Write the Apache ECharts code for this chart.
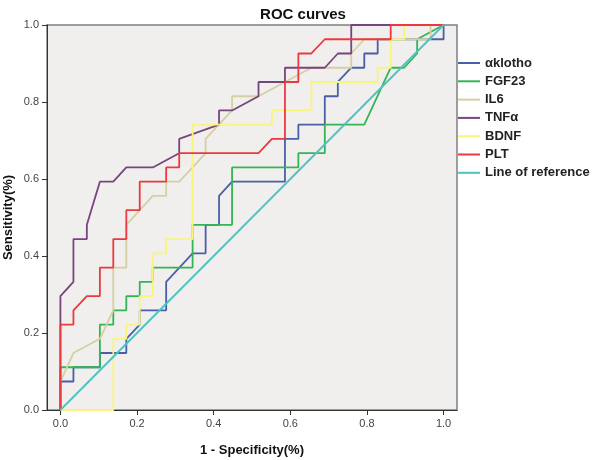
<!DOCTYPE html>
<html>
<head>
<meta charset="utf-8">
<script src="https://cdn.jsdelivr.net/npm/echarts@6/dist/echarts.min.js"></script>
<style>
html,body{margin:0;padding:0;background:#fff;}
#chart{width:597px;height:460px;}
</style>
</head>
<body>
<div id="chart"></div>
<script>
// ---- Data (1 - specificity, sensitivity) ----
const seriesNames = ['αklotho', 'FGF23', 'IL6', 'TNFα', 'BDNF', 'PLT', 'Line of reference'];

const aklotho = [[0,0],[0,0.074],[0.034,0.074],[0.034,0.111],[0.103,0.111],[0.103,0.148],[0.172,0.148],[0.172,0.185],[0.207,0.222],[0.207,0.259],[0.276,0.259],[0.276,0.333],[0.345,0.407],[0.379,0.407],[0.379,0.481],[0.414,0.481],[0.414,0.556],[0.448,0.593],[0.586,0.593],[0.586,0.704],[0.621,0.704],[0.621,0.741],[0.690,0.741],[0.690,0.815],[0.724,0.815],[0.724,0.852],[0.759,0.889],[0.793,0.889],[0.793,0.926],[0.828,0.926],[0.828,0.963],[1,0.963],[1,1]];

const fgf23 = [[0,0],[0,0.111],[0.103,0.111],[0.103,0.222],[0.138,0.222],[0.138,0.259],[0.172,0.259],[0.172,0.296],[0.207,0.296],[0.207,0.333],[0.241,0.333],[0.241,0.370],[0.345,0.370],[0.345,0.481],[0.448,0.481],[0.448,0.630],[0.621,0.630],[0.621,0.667],[0.690,0.667],[0.690,0.741],[0.793,0.741],[0.862,0.889],[0.897,0.889],[0.931,0.926],[0.931,0.963],[1,1]];

const il6 = [[0,0],[0,0.074],[0.034,0.148],[0.103,0.185],[0.138,0.259],[0.138,0.370],[0.172,0.370],[0.172,0.481],[0.241,0.556],[0.276,0.556],[0.276,0.593],[0.310,0.593],[0.345,0.630],[0.379,0.667],[0.379,0.704],[0.448,0.778],[0.448,0.815],[0.517,0.815],[0.586,0.852],[0.655,0.889],[0.759,0.889],[0.759,0.926],[0.793,0.963],[0.966,0.963],[0.966,1],[1,1]];

const tnfa = [[0,0],[0,0.296],[0.034,0.333],[0.034,0.444],[0.069,0.444],[0.069,0.481],[0.103,0.593],[0.138,0.593],[0.172,0.630],[0.241,0.630],[0.310,0.667],[0.310,0.704],[0.414,0.741],[0.414,0.778],[0.448,0.778],[0.517,0.815],[0.517,0.852],[0.586,0.852],[0.586,0.889],[0.690,0.889],[0.724,0.926],[0.759,0.926],[0.759,1],[1,1]];

const bdnf = [[0,0],[0.138,0],[0.138,0.185],[0.172,0.185],[0.172,0.222],[0.207,0.222],[0.207,0.296],[0.241,0.296],[0.241,0.407],[0.276,0.407],[0.276,0.444],[0.345,0.444],[0.345,0.741],[0.552,0.741],[0.552,0.778],[0.655,0.778],[0.655,0.852],[0.828,0.852],[0.828,0.889],[0.862,0.889],[0.862,0.963],[0.897,0.963],[0.897,1],[1,1]];

const plt = [[0,0],[0,0.222],[0.034,0.222],[0.034,0.259],[0.069,0.296],[0.103,0.296],[0.103,0.370],[0.138,0.370],[0.138,0.444],[0.172,0.444],[0.172,0.519],[0.207,0.519],[0.207,0.593],[0.276,0.593],[0.276,0.630],[0.310,0.630],[0.310,0.667],[0.517,0.667],[0.552,0.704],[0.586,0.704],[0.586,0.852],[0.621,0.852],[0.621,0.926],[0.655,0.926],[0.690,0.963],[0.862,0.963],[0.862,1],[1,1]];

const reference = [[0,0],[1,1]];

const tickValues = [0, 0.2, 0.4, 0.6, 0.8, 1.0];

const colors = ['#4a5fa8', '#33b553', '#d6cfa2', '#77457d', '#f8f47c', '#ea3a40', '#4cc2c4'];
const dataSets = [aklotho, fgf23, il6, tnfa, bdnf, plt, reference];

const chart = echarts.init(document.getElementById('chart'), null, {renderer: 'canvas'});

const series = seriesNames.map((name, i) => ({
  name: name,
  type: 'line',
  data: dataSets[i],
  symbol: 'none',
  showSymbol: false,
  smooth: false,
  lineStyle: {color: colors[i], width: 1.8},
  itemStyle: {color: colors[i]},
  z: 2 + i,
  animation: false
}));

chart.setOption({
  animation: false,
  backgroundColor: '#ffffff',
  textStyle: {fontFamily: 'Liberation Sans, Arial, sans-serif'},
  title: {
    text: 'ROC curves',
    left: 298,
    textAlign: 'center',
    top: 2,
    textStyle: {fontSize: 15, fontWeight: 'bold', color: '#111', fontFamily: 'Liberation Sans, Arial, sans-serif'}
  },
  grid: {
    left: 47, right: 140, top: 25, bottom: 50,
    containLabel: false,
    outerBoundsMode: 'none',
    show: true,
    backgroundColor: '#f0efed',
    borderColor: '#808080',
    borderWidth: 1.5
  },
  legend: {
    orient: 'vertical',
    left: 453,
    top: 51,
    icon: 'rect',
    itemWidth: 22,
    itemHeight: 2,
    itemGap: 4.3,
    data: seriesNames,
    textStyle: {fontSize: 13, fontWeight: 'bold', color: '#222', lineHeight: 14, fontFamily: 'Liberation Sans, Arial, sans-serif'},
    selectedMode: false
  },
  xAxis: {
    type: 'value',
    min: -0.035,
    max: 1.035,
    name: '1 - Specificity(%)',
    nameLocation: 'middle',
    nameGap: 34,
    nameMoveOverlap: false,
    nameTextStyle: {fontSize: 13, fontWeight: 'bold', color: '#111'},
    axisLine: {show: true, onZero: false, lineStyle: {color: '#333', width: 1}},
    axisTick: {show: true, inside: false, length: 5, customValues: tickValues, lineStyle: {color: '#333'}},
    axisLabel: {customValues: tickValues, fontSize: 11, color: '#444', margin: 8, formatter: v => v.toFixed(1)},
    splitLine: {show: false}
  },
  yAxis: {
    type: 'value',
    min: 0,
    max: 1,
    interval: 0.2,
    name: 'Sensitivity(%)',
    nameLocation: 'middle',
    nameGap: 32,
    nameMoveOverlap: false,
    nameTextStyle: {fontSize: 13, fontWeight: 'bold', color: '#111'},
    axisLine: {show: true, onZero: false, lineStyle: {color: '#333', width: 1}},
    axisTick: {show: true, inside: false, length: 5, lineStyle: {color: '#333'}},
    axisLabel: {fontSize: 11, color: '#444', margin: 8, formatter: v => v.toFixed(1)},
    splitLine: {show: false}
  },
  series: series
});
</script>
</body>
</html>
